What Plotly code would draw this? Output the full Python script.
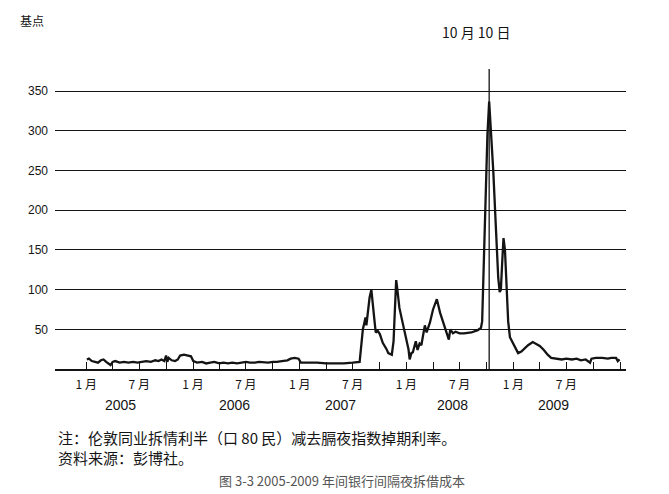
import plotly.graph_objects as go

# ---------------- data ----------------
dates = [
    "2005-01-03", "2005-01-10", "2005-01-20", "2005-02-01", "2005-02-10", "2005-02-20",
    "2005-03-01", "2005-03-10", "2005-03-20", "2005-03-25", "2005-04-01", "2005-04-10",
    "2005-04-25", "2005-05-10", "2005-05-25", "2005-06-10", "2005-06-25", "2005-07-10",
    "2005-07-25", "2005-08-10", "2005-08-25", "2005-09-05", "2005-09-15", "2005-09-25",
    "2005-10-01", "2005-10-05", "2005-10-10", "2005-10-20", "2005-11-01", "2005-11-10",
    "2005-11-18", "2005-12-01", "2005-12-15", "2005-12-25",
    "2006-01-02", "2006-01-15", "2006-02-01", "2006-02-15", "2006-03-01", "2006-03-15",
    "2006-04-01", "2006-04-15", "2006-05-01", "2006-05-15", "2006-06-01", "2006-06-15",
    "2006-07-01", "2006-07-15", "2006-08-01", "2006-08-15", "2006-09-01", "2006-09-15",
    "2006-10-01", "2006-10-15", "2006-11-01", "2006-11-20", "2006-12-01", "2006-12-15",
    "2006-12-28",
    "2007-01-05", "2007-02-01", "2007-03-01", "2007-04-01", "2007-05-01", "2007-06-01",
    "2007-07-01", "2007-07-25", "2007-08-01", "2007-08-05", "2007-08-10", "2007-08-14",
    "2007-08-17", "2007-08-22", "2007-08-28", "2007-09-03", "2007-09-08", "2007-09-14",
    "2007-09-18", "2007-09-25", "2007-10-02", "2007-10-12", "2007-10-25", "2007-10-31",
    "2007-11-12", "2007-11-18", "2007-11-22", "2007-11-27", "2007-12-01", "2007-12-08",
    "2007-12-18", "2007-12-31",
    "2008-01-08", "2008-01-12", "2008-01-18", "2008-01-23", "2008-02-02", "2008-02-08",
    "2008-02-15", "2008-02-21", "2008-03-04", "2008-03-10", "2008-03-21", "2008-04-01",
    "2008-04-14", "2008-04-25", "2008-05-13", "2008-05-25", "2008-05-30", "2008-06-08",
    "2008-06-17", "2008-07-01", "2008-07-16", "2008-08-10", "2008-09-01", "2008-09-12",
    "2008-09-16", "2008-09-22", "2008-09-28", "2008-10-04", "2008-10-10", "2008-10-14",
    "2008-10-24", "2008-11-03", "2008-11-10", "2008-11-15", "2008-11-19", "2008-11-23",
    "2008-11-28", "2008-12-03", "2008-12-08", "2008-12-14", "2008-12-20", "2008-12-28",
    "2009-01-05", "2009-01-17", "2009-01-28", "2009-02-08", "2009-02-20", "2009-03-08",
    "2009-03-18", "2009-04-01", "2009-04-15", "2009-04-28", "2009-05-10", "2009-05-25",
    "2009-06-15", "2009-07-01", "2009-07-20", "2009-08-05", "2009-08-20", "2009-09-05",
    "2009-09-20", "2009-09-25", "2009-10-10", "2009-11-01", "2009-11-20", "2009-12-01",
    "2009-12-18", "2009-12-24", "2009-12-30",
]
spread_bp = [
    12, 13, 10, 9, 8, 11,
    12, 9, 7, 5, 9, 10,
    8, 9, 8, 9, 8, 9,
    10, 9, 11, 10, 12, 10,
    17, 9, 14, 11, 10, 12,
    17, 18, 17, 16,
    10, 8, 9, 7, 8, 9,
    7, 8, 7, 8, 7, 8,
    9, 8, 8, 9, 8, 8,
    9, 9, 10, 11, 13, 14,
    13,
    8, 8, 8, 7, 7, 7,
    8, 9, 35, 50, 58, 65,
    55, 70, 90, 100, 85, 60,
    46, 48, 44, 33, 25, 20,
    18, 35, 70, 112, 100, 77,
    60, 36,
    25, 12, 20, 21, 35, 24,
    32, 30, 55, 46, 58, 75,
    88, 71, 52, 37, 50, 45,
    47, 45, 45, 46, 49, 52,
    60, 140, 220, 295, 337, 315,
    250, 170, 115, 97, 100, 130,
    165, 150, 110, 60, 40, 34,
    28, 20, 22, 26, 30, 34,
    32, 29, 24, 18, 14, 13,
    12, 13, 12, 13, 11, 12,
    8, 13, 14, 14, 13, 14,
    14, 10, 12,
]

tick_dates = [
    "2005-01-01", "2005-04-01", "2005-07-01", "2005-10-01",
    "2006-01-01", "2006-04-01", "2006-07-01", "2006-10-01",
    "2007-01-01", "2007-04-01", "2007-07-01", "2007-10-01",
    "2008-01-01", "2008-04-01", "2008-07-01", "2008-10-01",
    "2009-01-01", "2009-04-01", "2009-07-01", "2009-10-01",
    "2010-01-01",
]
tick_text = [
    "1 月", "", "7 月", "",
    "1 月", "", "7 月", "",
    "1 月", "", "7 月", "",
    "1 月", "", "7 月", "",
    "1 月", "", "7 月", "",
    "",
]
y_ticks = [50, 100, 150, 200, 250, 300, 350]
year_labels = ["2005", "2006", "2007", "2008", "2009"]
year_label_dates = ["2005-04-27", "2006-05-24", "2007-05-19", "2008-06-08", "2009-05-17"]
event_date = "2008-10-10"
event_label = "10 月 10 日"
y_title = "基点"
note_line1 = "注：伦敦同业拆情利半（口 80 民）减去膈夜指数掉期利率。"
note_line2 = "资料来源：彭博社。"
caption = "图 3-3 2005-2009 年间银行间隔夜拆借成本"

# ---------------- figure ----------------
CJK = "Noto Sans CJK SC"
LAT = "Liberation Sans, Arial, sans-serif"
INK = "#141414"

fig = go.Figure()
fig.add_trace(go.Scatter(
    x=dates, y=spread_bp, mode="lines",
    line=dict(color=INK, width=2.3),
    hoverinfo="x+y", showlegend=False,
))

# event reference line
fig.add_shape(type="line", xref="x", yref="y",
              x0=event_date, x1=event_date, y0=0, y1=378,
              line=dict(color=INK, width=1.3))

# page body has an 8px margin, so the figure is sized/positioned to compensate
fig.update_layout(
    width=661, height=486,
    margin=dict(l=47, r=43, t=57, b=125),
    paper_bgcolor="white", plot_bgcolor="white",
    showlegend=False,
    xaxis=dict(
        type="date",
        range=["2004-09-16", "2010-01-21"],
        tickmode="array", tickvals=tick_dates, ticktext=tick_text,
        ticks="inside", ticklen=7, tickwidth=1.2, tickcolor=INK,
        showgrid=False, zeroline=False,
        showline=True, linecolor=INK, linewidth=1.6,
        tickfont=dict(family=CJK, size=12, color=INK),
        ticklabelstandoff=4,
    ),
    yaxis=dict(
        range=[0, 383],
        tickmode="array", tickvals=y_ticks,
        showgrid=True, gridcolor=INK, gridwidth=1.3,
        zeroline=False, showline=False, ticks="",
        tickfont=dict(family=LAT, size=12, color=INK),
        ticklabelstandoff=6,
    ),
)

annotations = []
for lab, d in zip(year_labels, year_label_dates):
    annotations.append(dict(
        x=d, xref="x", y=-0.12, yref="paper", text=lab, showarrow=False,
        xanchor="center", yanchor="middle",
        font=dict(family=LAT, size=14, color=INK),
    ))
annotations += [
    dict(x=-0.04, xref="paper", y=1.148, yref="paper", text=y_title, showarrow=False,
         xanchor="center", yanchor="middle", font=dict(family=CJK, size=12, color=INK)),
    dict(x=0.739, xref="paper", y=1.108, yref="paper", text=event_label, showarrow=False,
         xanchor="center", yanchor="middle", font=dict(family=CJK, size=14, color=INK)),
    dict(x=0.002, xref="paper", y=-0.225, yref="paper", text=note_line1, showarrow=False,
         xanchor="left", yanchor="middle", font=dict(family=CJK, size=15, color=INK)),
    dict(x=0.002, xref="paper", y=-0.291, yref="paper", text=note_line2, showarrow=False,
         xanchor="left", yanchor="middle", font=dict(family=CJK, size=15, color=INK)),
    dict(x=0.503, xref="paper", y=-0.367, yref="paper", text=caption, showarrow=False,
         xanchor="center", yanchor="middle", font=dict(family=CJK, size=13, color="#555555")),
]
fig.update_layout(annotations=annotations)

fig.write_html("out.html")
